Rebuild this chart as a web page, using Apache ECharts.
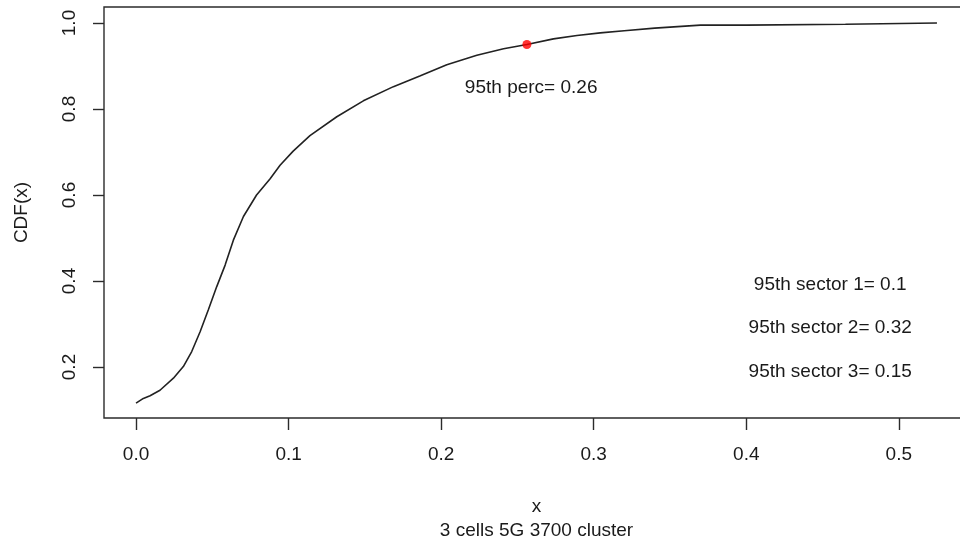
<!DOCTYPE html>
<html>
<head>
<meta charset="utf-8">
<script src="https://cdn.jsdelivr.net/npm/echarts@6/dist/echarts.min.js"></script>
<style>html,body{margin:0;padding:0;background:#fff;}#c{width:960px;height:542px;}</style>
</head>
<body>
<div id="c"></div>
<script>
const cdfX = [0.000, 0.0048, 0.0092, 0.0157, 0.0245, 0.031, 0.0365, 0.042, 0.0474, 0.0529, 0.0584, 0.0638, 0.0704, 0.079, 0.0879, 0.0944, 0.103, 0.114, 0.1316, 0.149, 0.1687, 0.186, 0.2037, 0.2234, 0.2409, 0.2562, 0.2736, 0.289, 0.3043, 0.32, 0.34, 0.37, 0.400, 0.401, 0.465, 0.466, 0.525];
const cdfY = [0.116, 0.127, 0.133, 0.146, 0.174, 0.201, 0.236, 0.282, 0.333, 0.387, 0.437, 0.495, 0.550, 0.600, 0.638, 0.669, 0.702, 0.738, 0.782, 0.819, 0.852, 0.877, 0.903, 0.925, 0.940, 0.950, 0.963, 0.971, 0.977, 0.982, 0.988, 0.995, 0.995, 0.997, 0.997, 1.0, 1.0];
// 95th percentile point
const p95 = [0.2562, 0.950];
// annotations: x, y, text
const noteX = [0.259, 0.455, 0.455, 0.455];
const noteY = [0.849, 0.391, 0.291, 0.189];
const noteText = ['95th perc= 0.26', '95th sector 1= 0.1', '95th sector 2= 0.32', '95th sector 3= 0.15'];
// axis ticks
const xTicks = [0.0, 0.1, 0.2, 0.3, 0.4, 0.5];
const yTicks = [0.2, 0.4, 0.6, 0.8, 1.0];
const xRange = [-0.021, 0.546];
const yRange = [0.0814, 1.0372];
const xLabel = 'x';
const subLabel = '3 cells 5G 3700 cluster';
const yLabel = 'CDF(x)';

const FONT = 'Liberation Sans, Arial, sans-serif';
const TXT = '#1a1a1a';
const AX = '#2b2b2b';

const chart = echarts.init(document.getElementById('c'), null, {renderer: 'canvas'});
chart.setOption({
  animation: false,
  backgroundColor: '#ffffff',
  grid: {left: 104, top: 7, width: 865, height: 411, show: true, borderColor: AX, borderWidth: 1.4, backgroundColor: 'transparent', containLabel: false, outerBoundsMode: 'none'},
  xAxis: {
    type: 'value', min: xRange[0], max: xRange[1],
    axisLine: {show: false, onZero: false},
    splitLine: {show: false},
    axisTick: {show: true, length: 12, lineStyle: {color: AX, width: 1.4}, customValues: xTicks},
    axisLabel: {customValues: xTicks, formatter: v => v.toFixed(1), margin: 27, fontFamily: FONT, fontSize: 19, color: TXT},
    name: xLabel + '\n' + subLabel,
    nameLocation: 'middle', nameGap: 77,
    nameTextStyle: {fontFamily: FONT, fontSize: 19, color: TXT, lineHeight: 24}
  },
  yAxis: {
    type: 'value', min: yRange[0], max: yRange[1],
    axisLine: {show: false, onZero: false},
    splitLine: {show: false},
    axisTick: {show: true, length: 11, lineStyle: {color: AX, width: 1.4}, customValues: yTicks},
    axisLabel: {customValues: yTicks, formatter: v => v.toFixed(1), rotate: 90, margin: 25, fontFamily: FONT, fontSize: 19, color: TXT},
    name: yLabel, nameLocation: 'middle', nameRotate: 90, nameGap: 73,
    nameTextStyle: {fontFamily: FONT, fontSize: 19, color: TXT}
  },
  series: [
    {
      type: 'line', data: cdfX.map((x, i) => [x, cdfY[i]]),
      showSymbol: false, symbol: 'none', smooth: false,
      lineStyle: {color: '#222222', width: 1.6}, silent: true, z: 2
    },
    {
      type: 'scatter', data: [p95], symbol: 'circle', symbolSize: 9,
      itemStyle: {color: '#ff0000'}, silent: true, z: 3
    },
    {
      type: 'scatter', data: noteX.map((x, i) => [x, noteY[i], noteText[i]]),
      symbolSize: 0, silent: true, z: 4, itemStyle: {color: 'transparent'},
      label: {show: true, position: 'inside', formatter: p => p.value[2], fontFamily: FONT, fontSize: 19, color: TXT, textBorderWidth: 0, textBorderColor: 'transparent', opacity: 1}
    }
  ]
});
</script>
</body>
</html>
